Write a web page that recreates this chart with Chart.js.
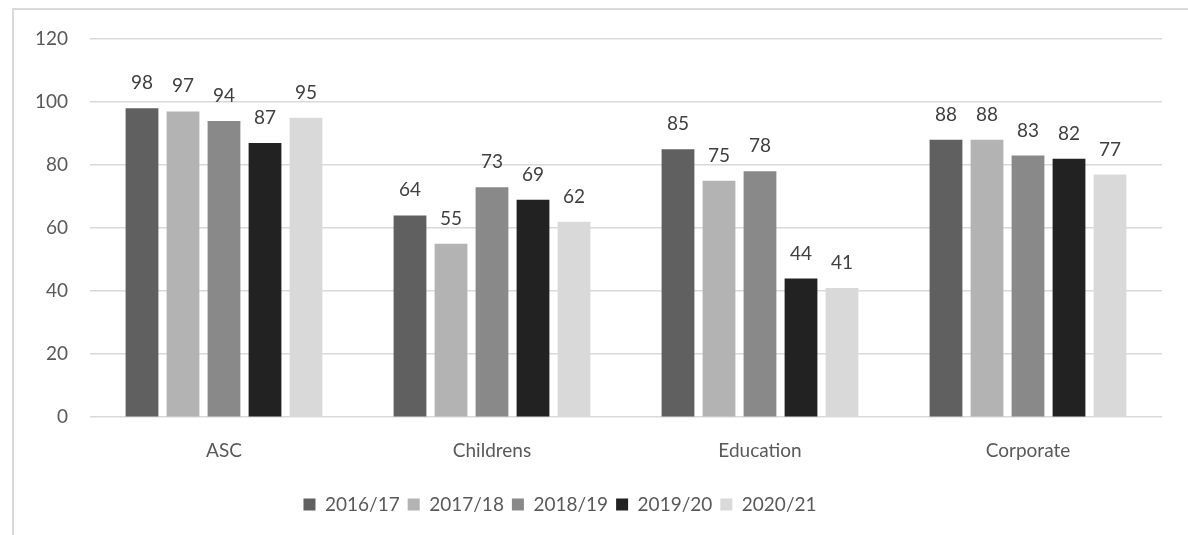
<!DOCTYPE html>
<html>
<head>
<meta charset="utf-8">
<script src="https://cdn.jsdelivr.net/npm/chart.js@4/dist/chart.umd.min.js"></script>
<style>
  html, body { margin: 0; padding: 0; background: #fff; }
  #wrap { position: relative; width: 1188px; height: 535px; }
  #frame { position: absolute; left: 12px; top: 8px; right: 0; bottom: 0;
           border-left: 2px solid #d9d9d9; border-top: 2px solid #d9d9d9; }
  canvas { position: absolute; left: 0; top: 0; }
</style>
</head>
<body>
<div id="wrap">
  <div id="frame"></div>
  <canvas id="grafico" width="1188" height="535"></canvas>
</div>
<script>
// categorias y valores por año
const categorias = ["ASC", "Childrens", "Education", "Corporate"];
const anios = ["2016/17", "2017/18", "2018/19", "2019/20", "2020/21"];
const v_2016 = [98, 64, 85, 88];
const v_2017 = [97, 55, 75, 88];
const v_2018 = [94, 73, 78, 83];
const v_2019 = [87, 69, 44, 82];
const v_2020 = [95, 62, 41, 77];
const colores = ["#606060", "#b3b3b3", "#898989", "#222222", "#d9d9d9"];

const series = [v_2016, v_2017, v_2018, v_2019, v_2020];
const fuente = "Lato, 'Liberation Sans', sans-serif";

// etiquetas de valor encima de cada barra
const etiquetas = {
  id: "etiquetas",
  afterDatasetsDraw(chart) {
    const ctx = chart.ctx;
    ctx.save();
    ctx.font = "19px " + fuente;
    ctx.fillStyle = "#404040";
    ctx.textAlign = "center";
    ctx.textBaseline = "alphabetic";
    chart.data.datasets.forEach(function(ds, i) {
      chart.getDatasetMeta(i).data.forEach(function(bar, j) {
        ctx.fillText(ds.data[j], bar.x, bar.y - 19);
      });
    });
    ctx.restore();
  }
};

// la leyenda va un poco a la izquierda del centro
const mover_leyenda = {
  id: "mover_leyenda",
  afterLayout(chart) {
    chart.legend.left -= 21;
    chart.legend.right -= 21;
  }
};

const conf = {
  type: "bar",
  data: {
    labels: categorias,
    datasets: anios.map(function(a, i) {
      return {
        label: a,
        data: series[i],
        backgroundColor: colores[i],
        borderWidth: 0,
        barPercentage: 0.8,
        categoryPercentage: 0.765
      };
    })
  },
  options: {
    responsive: false,
    animation: false,
    layout: { padding: { top: 39, right: 26, left: 0, bottom: 11 } },
    scales: {
      y: {
        min: 0,
        max: 120,
        ticks: { stepSize: 20, color: "#595959", padding: 22, font: { family: fuente, size: 19 } },
        grid: { color: "#d9d9d9", lineWidth: 1.5, drawTicks: false },
        border: { display: false },
        afterFit: function(s) { s.width = 90; }
      },
      x: {
        ticks: { color: "#595959", padding: 14, font: { family: fuente, size: 19 } },
        grid: { display: false },
        border: { display: false },
        afterFit: function(s) { s.height += 11; }
      }
    },
    plugins: {
      legend: {
        position: "bottom",
        labels: {
          boxWidth: 12,
          boxHeight: 12,
          padding: 8,
          color: "#595959",
          font: { family: fuente, size: 19 }
        }
      },
      tooltip: { enabled: false }
    }
  },
  plugins: [etiquetas, mover_leyenda]
};

new Chart(document.getElementById("grafico"), conf);
</script>
</body>
</html>
